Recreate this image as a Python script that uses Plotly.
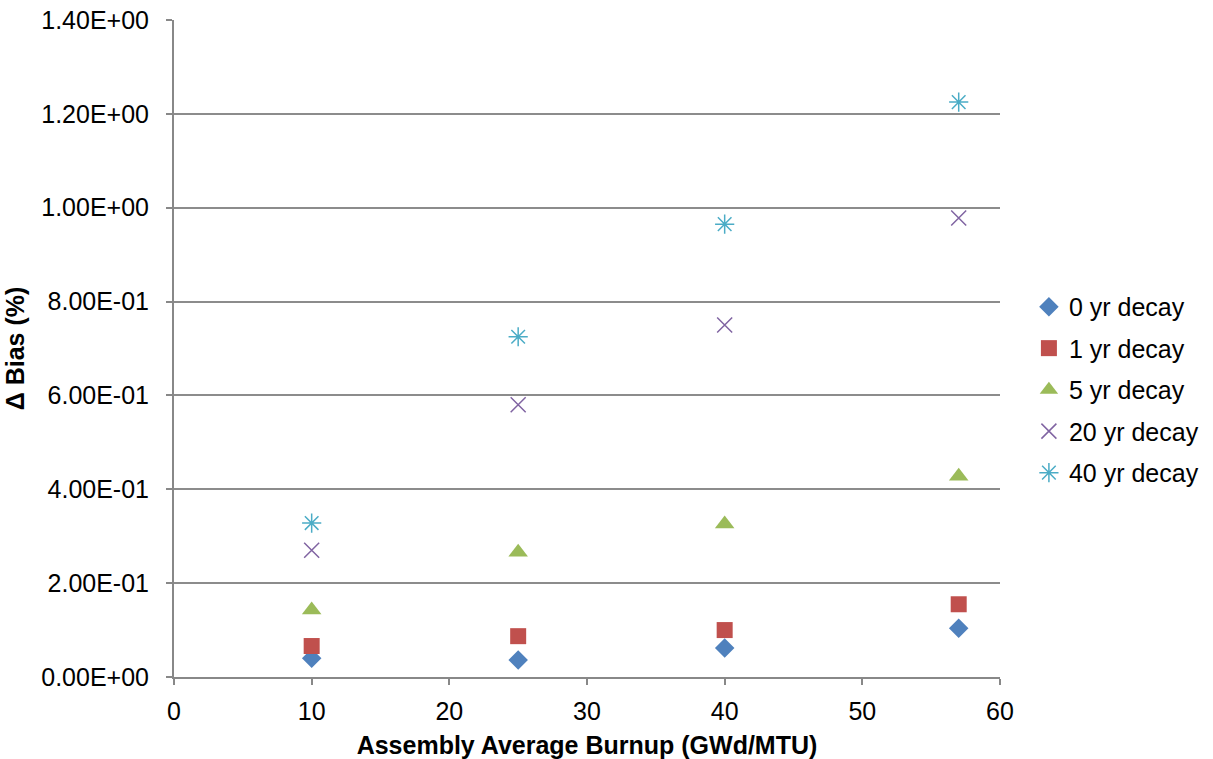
import plotly.graph_objects as go

burnup = [10, 25, 40, 57]
series_names = ["0 yr decay", "1 yr decay", "5 yr decay", "20 yr decay", "40 yr decay"]
bias_0yr = [0.040, 0.036, 0.062, 0.104]
bias_1yr = [0.066, 0.087, 0.100, 0.155]
bias_5yr = [0.143, 0.266, 0.326, 0.428]
bias_20yr = [0.270, 0.580, 0.750, 0.978]
bias_40yr = [0.328, 0.725, 0.965, 1.225]

y_tickvals = [0.0, 0.2, 0.4, 0.6, 0.8, 1.0, 1.2, 1.4]
y_ticktext = ["0.00E+00", "2.00E-01", "4.00E-01", "6.00E-01", "8.00E-01",
              "1.00E+00", "1.20E+00", "1.40E+00"]

styles = [
    dict(symbol="diamond", color="#4F81BD", size=15, line=dict(width=0)),
    dict(symbol="square", color="#C0504D", size=16, line=dict(width=0)),
    dict(symbol="triangle-up", color="#9BBB59", size=17, line=dict(width=0)),
    dict(symbol="x-thin-open", color="#8064A2", size=15, line=dict(width=1.5, color="#8064A2")),
    dict(symbol="asterisk-open", color="#4BACC6", size=16, line=dict(width=1.5, color="#4BACC6")),
]

fig = go.Figure()
for name, vals, st in zip(series_names, [bias_0yr, bias_1yr, bias_5yr, bias_20yr, bias_40yr], styles):
    fig.add_trace(go.Scatter(x=burnup, y=vals, mode="markers", name=name,
                             legendgroup=name, marker=st))

font = "Liberation Sans, Arial, sans-serif"
fig.update_layout(
    width=1213, height=759,
    margin=dict(l=174, r=213, t=20, b=82, autoexpand=False),
    paper_bgcolor="white", plot_bgcolor="white",
    font=dict(family=font, size=25, color="black"),
    showlegend=True,
    legend=dict(x=1.035, y=0.437, yanchor="middle", xanchor="left",
                font=dict(size=25), tracegroupgap=6,
                bgcolor="rgba(0,0,0,0)"),
    xaxis=dict(range=[0, 60], dtick=10, tick0=0, showgrid=False, zeroline=False,
               showline=True, linecolor="#888888", linewidth=2,
               ticks="outside", ticklen=6, tickcolor="#888888", tickwidth=1.5,
               tickfont=dict(size=25), ticklabelstandoff=5, automargin=False,
               title=dict(text="<b>Assembly Average Burnup (GWd/MTU)</b>", font=dict(size=25), standoff=14)),
    yaxis=dict(range=[0, 1.4], tickvals=y_tickvals, ticktext=y_ticktext,
               showgrid=True, gridcolor="#8C8C8C", gridwidth=2, zeroline=False,
               showline=True, linecolor="#888888", linewidth=2,
               ticks="outside", ticklen=6, tickcolor="#888888", tickwidth=1.5,
               tickfont=dict(size=25), ticklabelstandoff=12, automargin=False,
               title=dict(text="<b>Δ Bias (%)</b>", font=dict(size=25), standoff=10)),
)

fig.write_html("out.html")
